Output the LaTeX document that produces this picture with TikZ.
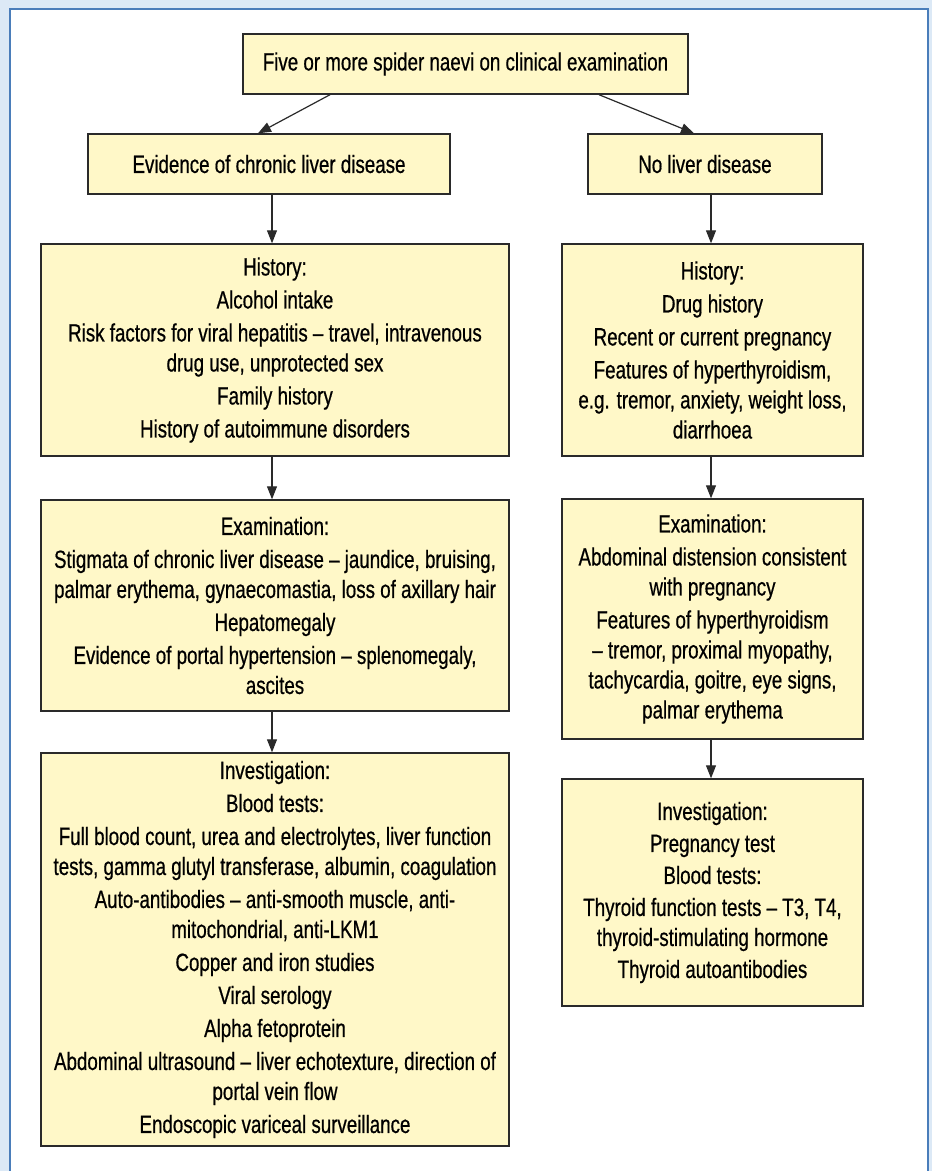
\documentclass[tikz,border=0pt]{standalone}
\usepackage{fontspec}
\setmainfont{Liberation Sans}[FakeStretch=0.75,FakeBold=0.6]
\usetikzlibrary{arrows.meta}
\definecolor{bgblue}{HTML}{DCE9F6}
\definecolor{frameblue}{HTML}{4A7DBA}
\definecolor{boxfill}{HTML}{FFF8C8}
\definecolor{boxline}{HTML}{2A2A2A}
\tikzset{
  box/.style={draw=boxline, line width=1.4pt, fill=boxfill, inner sep=0pt,
    align=center, font=\fontsize{25}{30}\selectfont},
  arr/.style={draw=boxline, line width=1.2pt, -{Triangle[length=13pt,width=10pt]}}
}
\begin{document}
\begin{tikzpicture}[x=1pt,y=-1pt]
\useasboundingbox (0,0) rectangle (932,1171);
\fill[bgblue] (0,0) rectangle (932,1171);
\draw[frameblue, line width=1.5pt, fill=white] (10,9) rectangle (928,1190);

\node[box, minimum width=445pt, minimum height=60pt] (top) at (465.5,64)
  {Five or more spider naevi on clinical examination};
\node[box, minimum width=362pt, minimum height=60pt] (evid) at (269,164)
  {Evidence of chronic liver disease};
\node[box, minimum width=234pt, minimum height=60pt] (nold) at (705,164)
  {No liver disease};

\node[box, minimum width=468pt, minimum height=212pt] (hisL) at (275,350)
  {History:\\[3pt]
   Alcohol intake\\[3pt]
   Risk factors for viral hepatitis -- travel, intravenous\\
   drug use, unprotected sex\\[3pt]
   Family history\\[3pt]
   History of autoimmune disorders};
\node[box, minimum width=468pt, minimum height=211pt] (exL) at (275,605.5)
  {Examination:\\[3pt]
   Stigmata of chronic liver disease -- jaundice, bruising,\\
   palmar erythema, gynaecomastia, loss of axillary hair\\[3pt]
   Hepatomegaly\\[3pt]
   Evidence of portal hypertension -- splenomegaly,\\
   ascites};
\node[box, minimum width=468pt, minimum height=393pt] (invL) at (275,949.5)
  {Investigation:\\[3pt]
   Blood tests:\\[3pt]
   Full blood count, urea and electrolytes, liver function\\
   tests, gamma glutyl transferase, albumin, coagulation\\[3pt]
   Auto-antibodies -- anti-smooth muscle, anti-\\
   mitochondrial, anti-LKM1\\[3pt]
   Copper and iron studies\\[3pt]
   Viral serology\\[3pt]
   Alpha fetoprotein\\[3pt]
   Abdominal ultrasound -- liver echotexture, direction of\\
   portal vein flow\\[3pt]
   Endoscopic variceal surveillance};

\node[box, minimum width=301pt, minimum height=212pt] (hisR) at (712.5,350)
  {History:\\[3pt]
   Drug history\\[3pt]
   Recent or current pregnancy\\[3pt]
   Features of hyperthyroidism,\\
   e.g. tremor, anxiety, weight loss,\\
   diarrhoea};
\node[box, minimum width=301pt, minimum height=240pt] (exR) at (712.5,619)
  {Examination:\\[3pt]
   Abdominal distension consistent\\
   with pregnancy\\[3pt]
   Features of hyperthyroidism\\
   -- tremor, proximal myopathy,\\
   tachycardia, goitre, eye signs,\\
   palmar erythema};
\node[box, minimum width=301pt, minimum height=227pt] (invR) at (712.5,892.5)
  {Investigation:\\[2pt]
   Pregnancy test\\[2pt]
   Blood tests:\\[2pt]
   Thyroid function tests -- T3, T4,\\
   thyroid-stimulating hormone\\[2pt]
   Thyroid autoantibodies};

\draw[arr] ([xshift=-135.5pt]top.south) -- ([xshift=-11pt]evid.north);
\draw[arr] ([xshift=133.5pt]top.south) -- ([xshift=-11pt]nold.north);
\draw[arr] ([xshift=3pt]evid.south) -- ([xshift=-3pt]hisL.north);
\draw[arr] ([xshift=-3pt]hisL.south) -- ([xshift=-3pt]exL.north);
\draw[arr] ([xshift=-3pt]exL.south) -- ([xshift=-3pt]invL.north);
\draw[arr] ([xshift=6pt]nold.south) -- ([xshift=-1.5pt]hisR.north);
\draw[arr] ([xshift=-1.5pt]hisR.south) -- ([xshift=-1.5pt]exR.north);
\draw[arr] ([xshift=-1.5pt]exR.south) -- ([xshift=-1.5pt]invR.north);
\end{tikzpicture}
\end{document}
